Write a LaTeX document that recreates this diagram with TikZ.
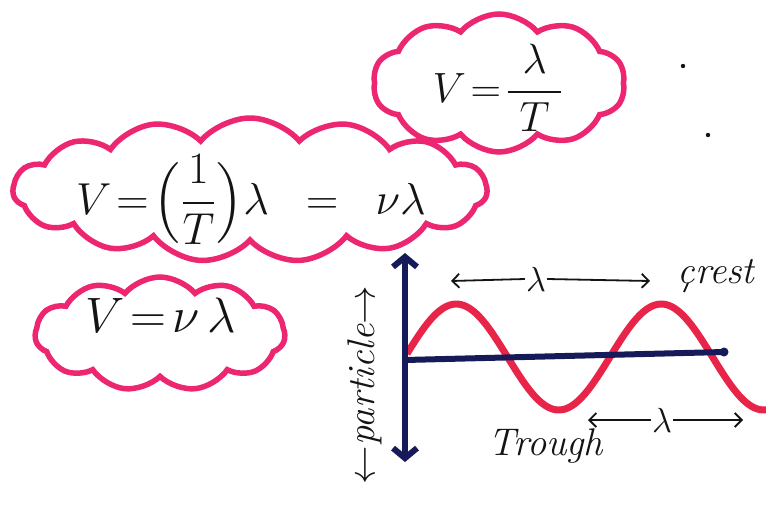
\documentclass[tikz,border=0pt]{standalone}
\usepackage{amsmath}
\usetikzlibrary{shapes.symbols,arrows.meta}
\definecolor{cloudpink}{RGB}{236,38,112}
\definecolor{wavered}{RGB}{232,36,72}
\definecolor{navy}{RGB}{22,26,88}
\definecolor{ink}{RGB}{20,20,20}
\tikzset{
  cloudbox/.style={cloud, draw=cloudpink, line width=5.5pt, aspect=1.8, cloud puff arc=100, inner sep=0pt, text=ink},
  wave/.style={draw=wavered, line width=7pt},
  axis/.style={draw=navy, line width=6pt},
  dimarrow/.style={draw=ink, line width=1.8pt, -{Straight Barb[length=7pt,width=14pt]}},
  lbl/.style={text=ink, inner sep=1pt, font=\Huge},
}
\begin{document}
\begin{tikzpicture}[x=1pt,y=-1pt]
\useasboundingbox (0,0) rectangle (766,520);
\fill[white] (0,0) rectangle (766,520);
% clouds
\node[cloudbox, cloud puffs=10, minimum width=252pt, minimum height=138pt] (c1) at (499,83) {};
\node[lbl] (t1) at (498,88) {\scalebox{1.7}{$V\!=\!\dfrac{\lambda}{\;T\;}$}};
\node[cloudbox, cloud puffs=15, minimum width=474pt, minimum height=144pt] (c2) at (250,190) {};
\node[lbl] (t2) at (251,200) {\scalebox{1.8}{$V\!=\!\Bigl(\dfrac{1}{T}\Bigr)\lambda\;\;=\;\;\nu\lambda$}};
\node[cloudbox, cloud puffs=11, minimum width=250pt, minimum height=114pt] (c3) at (160,334) {};
\node[lbl] (t3) at (161,315) {\scalebox{2.0}{$V\!=\!\nu\,\lambda$}};
% wave
\coordinate (o) at (405,360);
\coordinate (e) at (724,352);
\coordinate (vt) at (405,253);
\coordinate (vb) at (405,462);
\draw[wave] plot[domain=407:766, samples=120] (\x, {357 - 53*sin((\x-405)/205*360)});
\draw[axis] (o) -- (e);
\fill[navy] (e) circle (4.5pt);
\draw[axis, {Straight Barb[length=10pt,width=24pt]}-{Straight Barb[length=10pt,width=24pt]}] (vb) -- (vt);
% top lambda
\node[lbl] (l1) at (536,279) {\scalebox{1.4}{$\lambda$}};
\coordinate (l1a) at (451,281);
\coordinate (l1b) at (650,281);
\draw[dimarrow] (l1.west) -- (l1a);
\draw[dimarrow] (l1.east) -- (l1b);
% lower lambda
\node[lbl] (l2) at (662,420) {\scalebox{1.4}{$\lambda$}};
\coordinate (l2a) at (588,420);
\coordinate (l2b) at (743,420);
\draw[dimarrow] (l2.west) -- (l2a);
\draw[dimarrow] (l2.east) -- (l2b);
% labels
\node[lbl] (crest) at (716,272) {\scalebox{1.55}{\itshape crest}};
\coordinate (ck1) at (688,283);
\coordinate (ck2) at (684,292);
\draw[ink, line width=1.8pt] (ck1) -- (ck2);
\node[lbl] (trough) at (546,446) {\scalebox{1.55}{\itshape Trough}};
\node[lbl, rotate=90] (part) at (365,385) {\scalebox{1.55}{\itshape $\leftarrow$particle$\rightarrow$}};
% stray pen marks
\fill[ink] (683,66) circle (2.2pt);
\fill[ink] (708,135) circle (2.2pt);
\end{tikzpicture}
\end{document}
